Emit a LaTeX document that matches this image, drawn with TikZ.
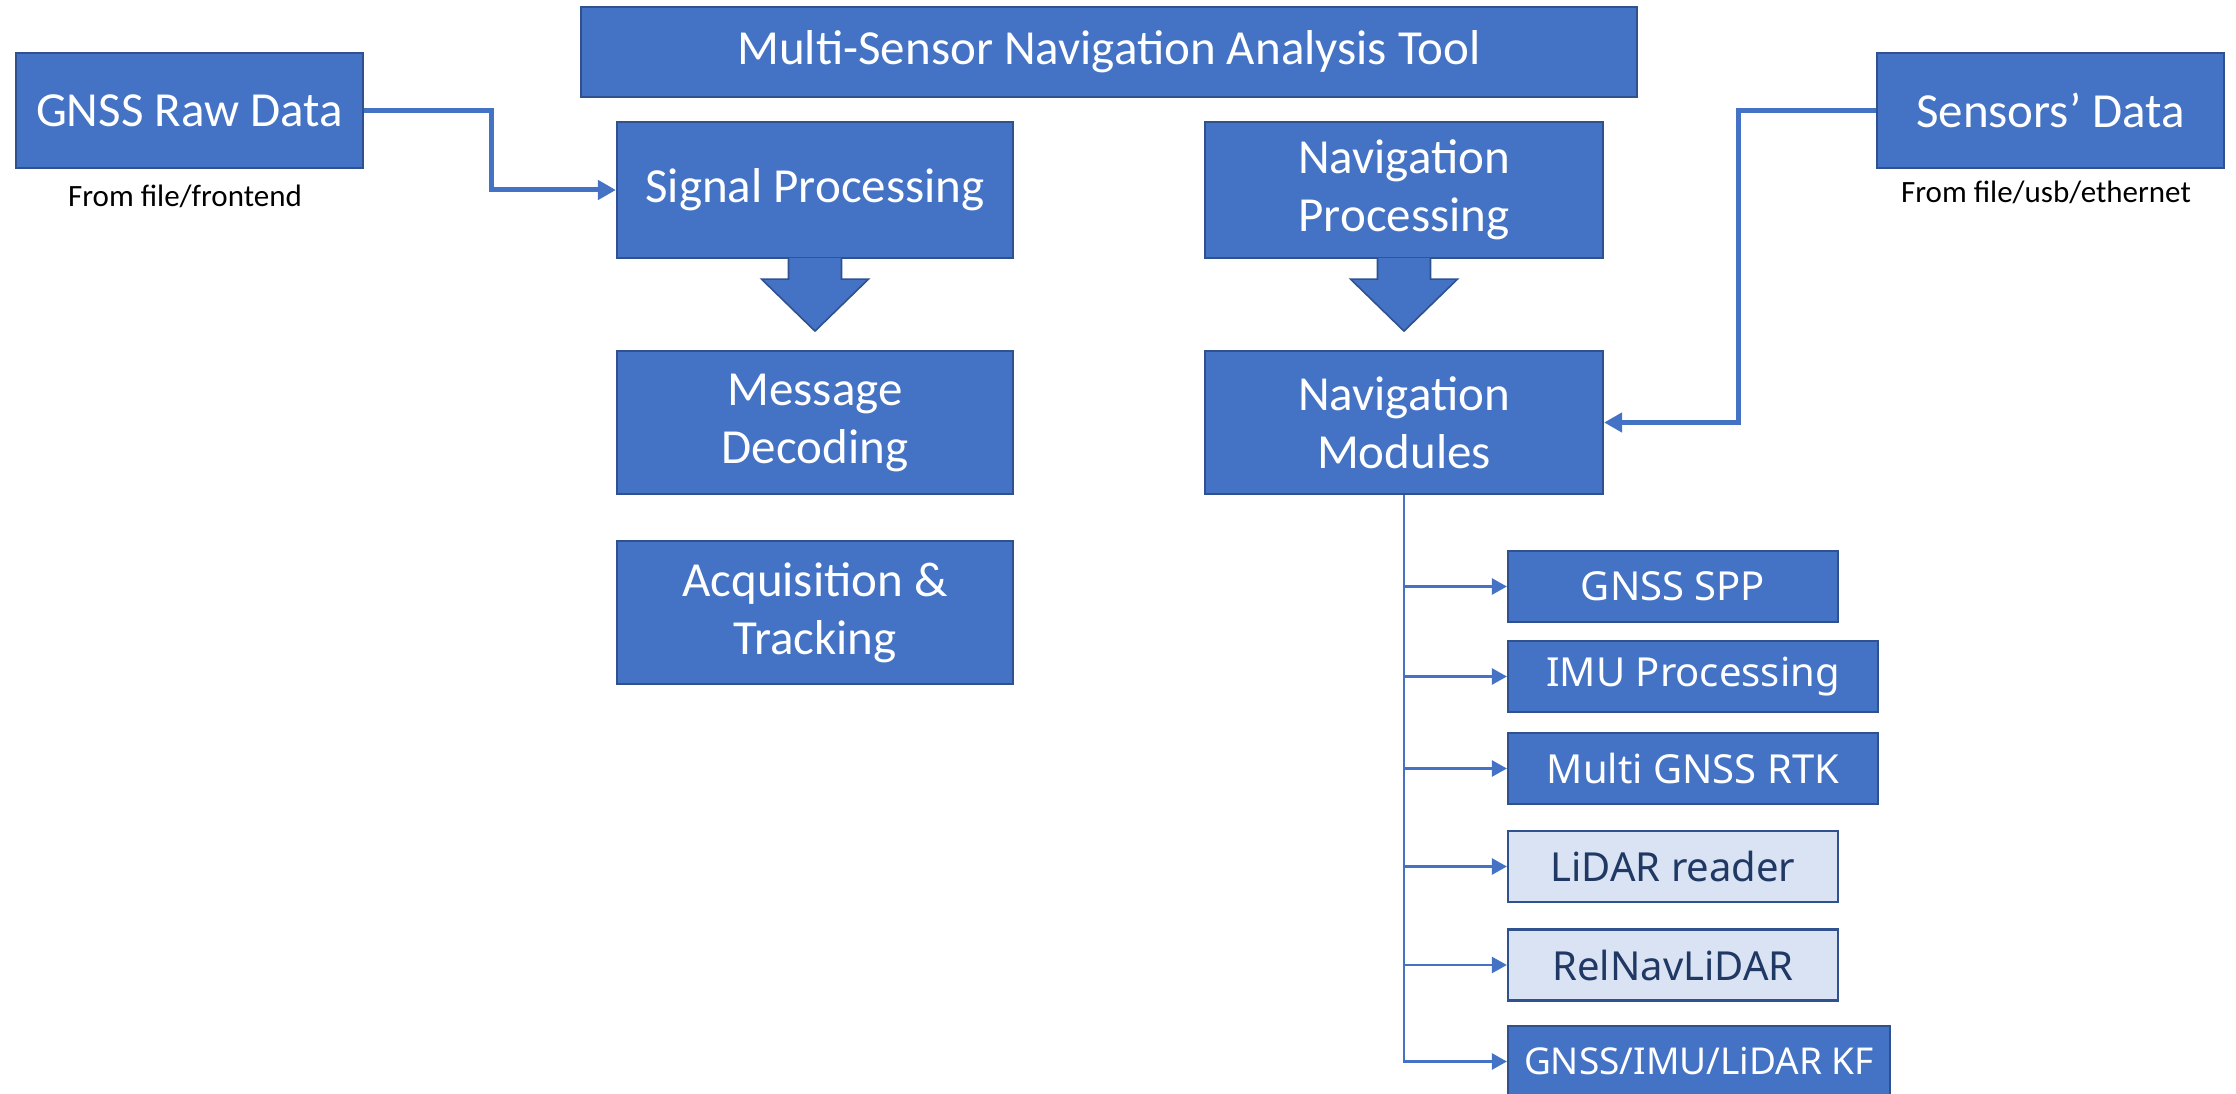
\documentclass[tikz,border=0pt]{standalone}
\usepackage{fontspec}
\setmainfont{Carlito}
\newfontfamily\modfont{Noto Sans}
\usetikzlibrary{arrows.meta,calc}
\definecolor{boxblue}{HTML}{4472C4}
\definecolor{boxedge}{HTML}{2F528F}
\definecolor{lightfill}{HTML}{DAE3F3}
\definecolor{darktext}{HTML}{203864}
\begin{document}
\begin{tikzpicture}[x=1pt,y=-1pt,
  bluebox/.style={draw=boxedge, fill=boxblue, line width=2.2pt, text=white,
    align=center, inner sep=0pt, font=\fontsize{49}{58}\selectfont},
  modbox/.style={bluebox, minimum height=71pt, font=\modfont\fontsize{40}{48}\selectfont},
  lightbox/.style={modbox, fill=lightfill, text=darktext},
  smalllabel/.style={anchor=base, text=black, inner sep=0pt, font=\fontsize{31}{37}\selectfont},
  blockarrow/.style={fill=boxblue, draw=boxedge, line width=1.6pt, line join=miter},
  feed/.style={draw=boxblue, line width=5pt, -{Triangle[length=18pt,width=19pt]}},
  treeline/.style={draw=boxblue, line width=2.5pt, -{Triangle[length=15pt,width=16pt]}}
]
\useasboundingbox (0,0) rectangle (2236,1094);

% top-level boxes
\node[bluebox, minimum width=1056pt, minimum height=90pt] (title) at (1109,52) {Multi-Sensor Navigation Analysis Tool};
\node[bluebox, minimum width=347pt, minimum height=115pt] (gnss) at (189.5,110.5) {GNSS Raw Data};
\node[bluebox, minimum width=347pt, minimum height=115pt] (sens) at (2050.5,110.5) {Sensors’ Data};
\node[smalllabel] (gnsslab) at (185,207) {From file/frontend};
\node[smalllabel] (senslab) at (2046,203) {From file/usb/ethernet};

\node[bluebox, minimum width=396pt, minimum height=136pt] (sig) at (815,190) {Signal Processing};
\node[bluebox, minimum width=398pt, minimum height=136pt] (navp) at (1404,190) {Navigation\\Processing};
\node[bluebox, minimum width=396pt, minimum height=143pt] (msg) at (815,422.5) {Message\\Decoding};
\node[bluebox, minimum width=396pt, minimum height=143pt] (acq) at (815,612.5) {Acquisition \&\\Tracking};
\node[bluebox, minimum width=398pt, minimum height=143pt] (navm) at (1404,422.5) {Navigation\\Modules};

% navigation module list
\node[modbox, minimum width=330pt] (spp) at (1673,586.5) {GNSS SPP};
\node[modbox, minimum width=370pt] (imu) at (1693,676.5) {IMU Processing};
\node[modbox, minimum width=370pt] (rtk) at (1693,768.5) {Multi GNSS RTK};
\node[lightbox, minimum width=330pt] (lidar) at (1673,866.5) {LiDAR reader};
\node[lightbox, minimum width=330pt] (relnav) at (1673,965) {RelNavLiDAR};
\node[modbox, minimum width=382pt, font=\modfont\fontsize{37}{44}\selectfont] (kf) at (1699,1061.5) {GNSS/IMU/LiDAR KF};

% block arrows
\foreach \b in {sig,navp}{
  \filldraw[blockarrow] ($(\b.south)+(-26.5,-1.2)$) -- ++(0,21.2) -- ++(-27,0)
    -- ($(\b.south)+(0,72)$) -- ++(53.5,-52) -- ++(-27,0) -- ++(0,-21.2);
}

% feeds
\draw[feed] (gnss.east) -- ++(127,0) |- (sig.west);
\draw[feed] (sens.west) -- ++(-137,0) |- (navm.east);

% tree
\draw[treeline] (navm.south) |- (kf.west);
\foreach \m in {spp,imu,rtk,lidar,relnav}{
  \draw[treeline] (navm.south |- \m.west) -- (\m.west);
}
\end{tikzpicture}
\end{document}
